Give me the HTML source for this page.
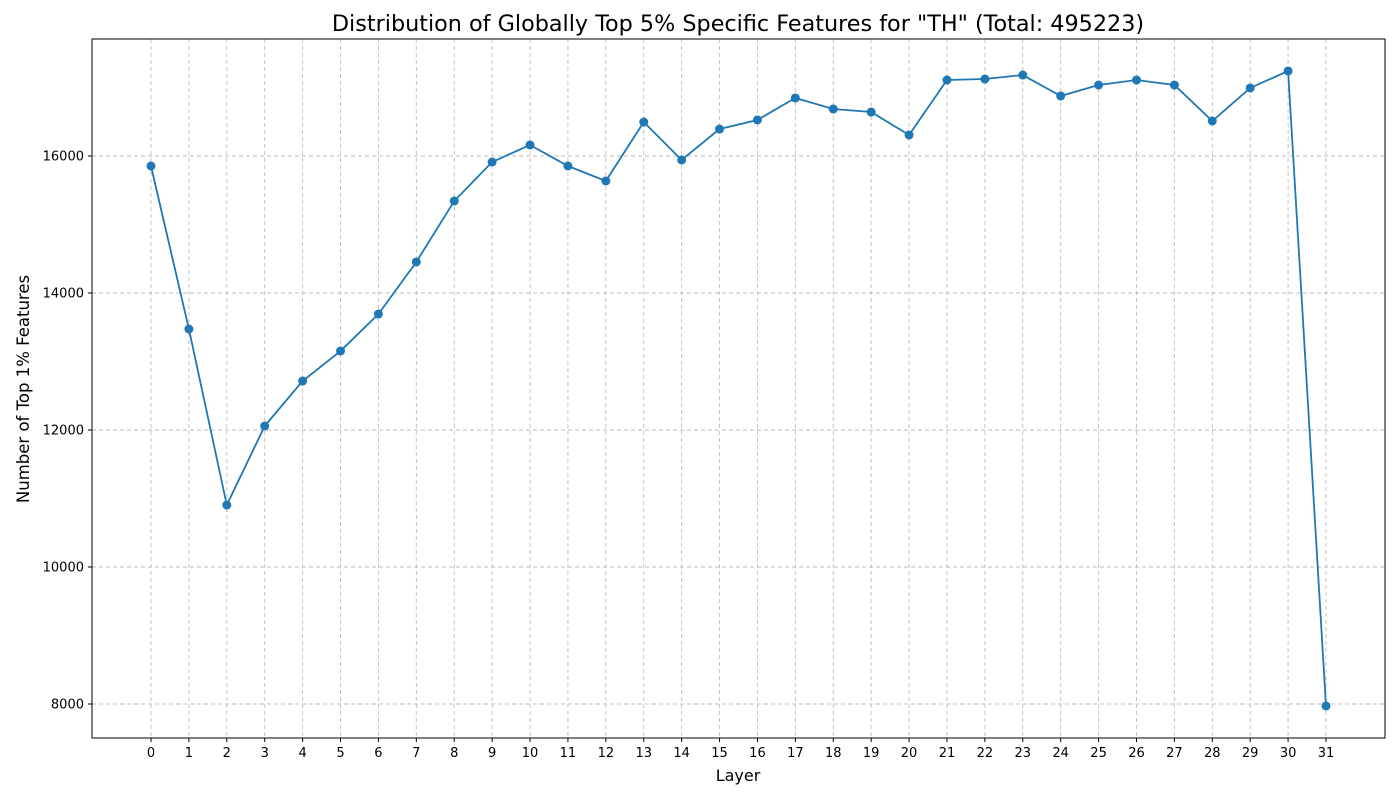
<!DOCTYPE html>
<html><head><meta charset="utf-8"><style>
html,body{margin:0;padding:0;background:#fff;}
svg{display:block;font-family:"DejaVu Sans","Liberation Sans",sans-serif;}
</style></head><body>
<svg id="chart" width="1400" height="800">
<text x="738" y="31" text-anchor="middle" font-size="22.3" fill="#000">Distribution of Globally Top 5% Specific Features for "TH" (Total: 495223)</text>
<g id="grid"></g>
<g id="ticks"></g>
<rect x="92" y="39" width="1293" height="699" fill="none" stroke="#000" stroke-width="1"/>
<g id="series"></g>
<text x="738" y="781" text-anchor="middle" font-size="16">Layer</text>
<text transform="translate(29,389) rotate(-90)" text-anchor="middle" font-size="16.5">Number of Top 1% Features</text>
</svg>
<script>
const layers=[0,1,2,3,4,5,6,7,8,9,10,11,12,13,14,15,16,17,18,19,20,21,22,23,24,25,26,27,28,29,30,31];
const counts=[15854,13474,10905,12058,12715,13153,13693,14453,15343,15912,16161,15854,15635,16496,15942,16394,16526,16847,16686,16642,16307,17109,17124,17182,16876,17036,17109,17036,16511,16993,17241,7971];
const yTicks=[8000,10000,12000,14000,16000];
const NS="http://www.w3.org/2000/svg";
const xs=i=>151+i*(1175/31);
const ys=v=>156+(16000-v)*0.0685;
function mk(tag,attrs,parent){const e=document.createElementNS(NS,tag);for(const k in attrs)e.setAttribute(k,attrs[k]);parent.appendChild(e);return e;}
const grid=document.getElementById('grid'),ticks=document.getElementById('ticks'),series=document.getElementById('series');
layers.forEach((l,i)=>{
 const x=xs(i);
 const g=mk('line',{x1:x,x2:x,y1:39,y2:738,stroke:'#bdbdbd','stroke-dasharray':'4,3','stroke-width':0.9},grid);
 
 
 mk('line',{x1:x,x2:x,y1:738,y2:742,stroke:'#000'},ticks);
 const t=mk('text',{x:x,y:757,'text-anchor':'middle','font-size':13},ticks);
 t.textContent=l;
 
 
});
yTicks.forEach(v=>{
 const y=ys(v);
 const g=mk('line',{x1:92,x2:1385,y1:y,y2:y,stroke:'#bdbdbd','stroke-dasharray':'4,3','stroke-width':0.9},grid);
 
 
 mk('line',{x1:88,x2:92,y1:y,y2:y,stroke:'#000'},ticks);
 const t=mk('text',{x:84,y:y+4.5,'text-anchor':'end','font-size':13},ticks);
 t.textContent=v;
 
 
});
const pts=counts.map((v,i)=>xs(i)+','+ys(v)).join(' ');
const pl=mk('polyline',{points:pts,fill:'none',stroke:'#1f77b4','stroke-width':1.8},series);


counts.forEach((v,i)=>{
 const c=mk('circle',{cx:xs(i),cy:ys(v),r:4.5,fill:'#1f77b4'},series);
 
 
});
</script>
</body></html>
